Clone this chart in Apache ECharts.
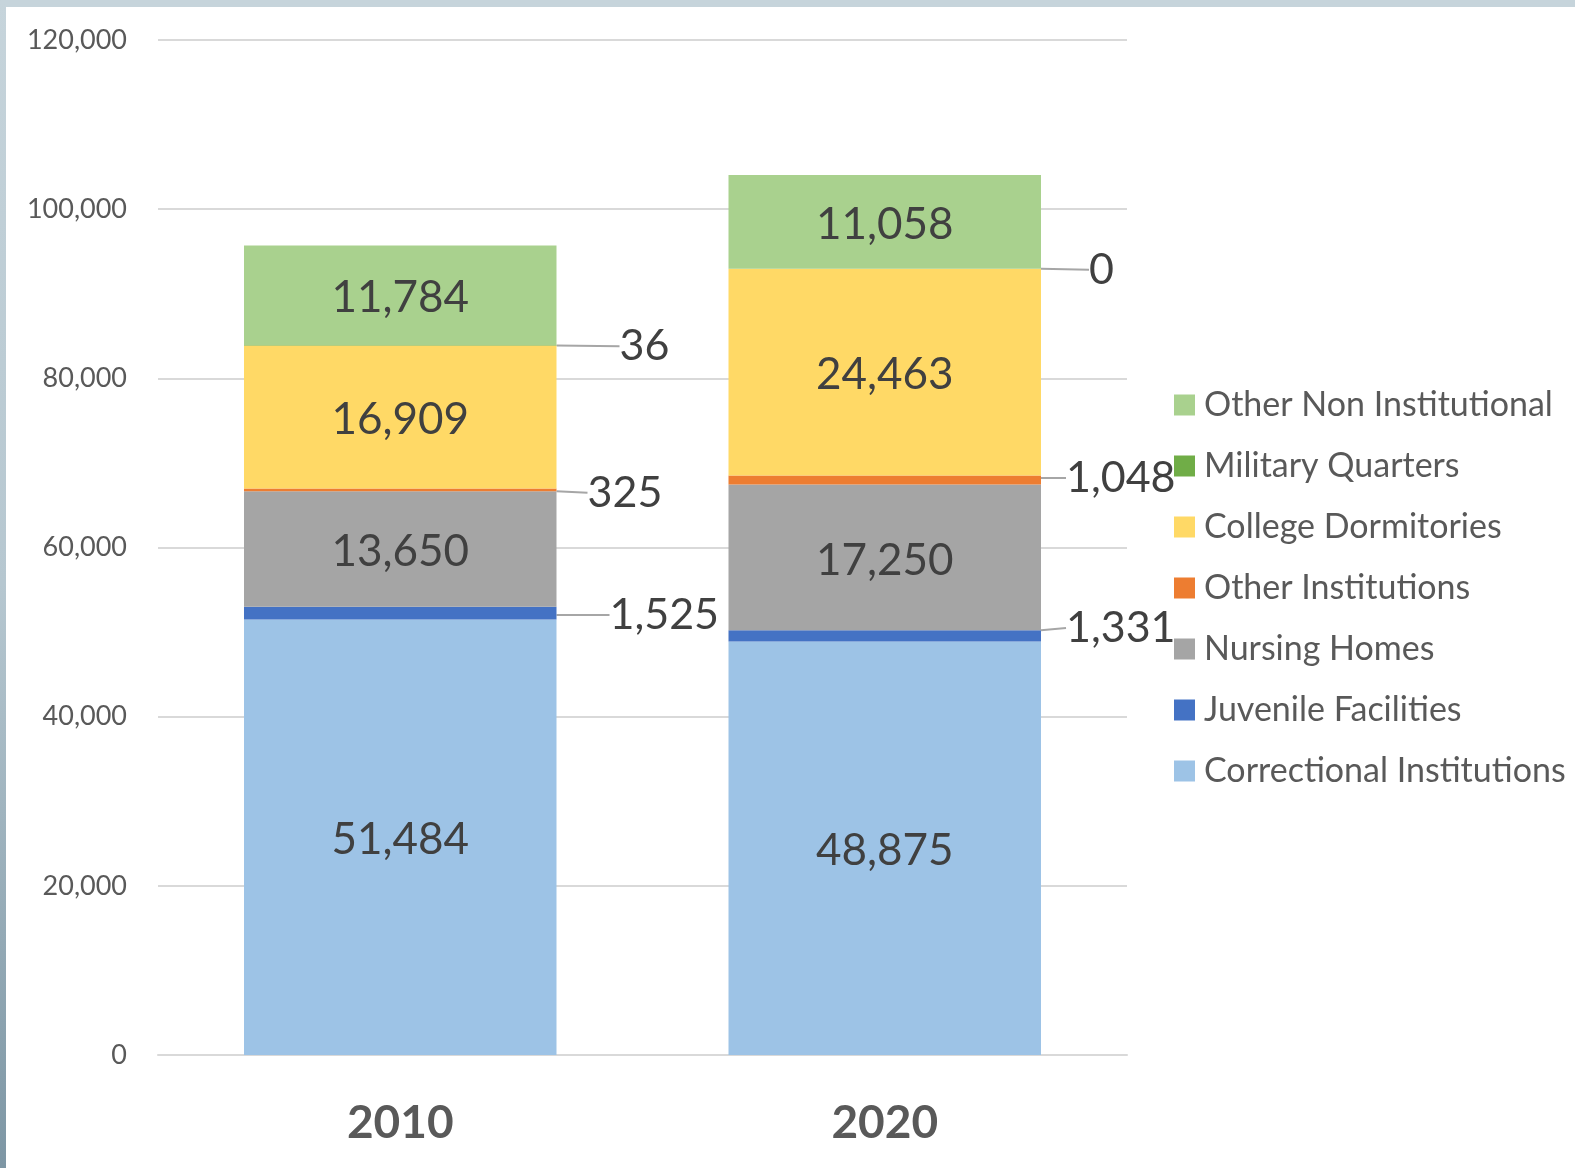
<!DOCTYPE html>
<html>
<head>
<meta charset="utf-8">
<script src="https://cdn.jsdelivr.net/npm/echarts@6/dist/echarts.min.js"></script>
<style>
  html, body { margin: 0; padding: 0; background: #fff; }
  #main { position: absolute; left: 0; top: 0; width: 1575px; height: 1168px; }
  #topStrip { position: absolute; left: 0; top: 0; width: 1575px; height: 7px; background: #c6d4db; }
  #leftStrip { position: absolute; left: 0; top: 0; width: 6px; height: 1168px;
    background: linear-gradient(#c6d4db, #b6c7d0 50%, #7d96a4); }
</style>
</head>
<body>
<div id="main"></div>
<div id="topStrip"></div>
<div id="leftStrip"></div>
<script>
// data
const years = ['2010', '2020'];
const correctional = [51484, 48875];
const juvenile = [1525, 1331];
const nursing = [13650, 17250];
const otherInst = [325, 1048];
const college = [16909, 24463];
const military = [36, 0];
const otherNonInst = [11784, 11058];
const yTicks = [0, 20000, 40000, 60000, 80000, 100000, 120000];

// label offsets for the small segments (dx, dy) per year
const juvOffset = [[48, 2], [20, -8]];
const otherInstOffset = [[26, 3], [20, -2]];
const militaryOffset = [[58, 1], [43, 1]];

const fmt = v => v.toLocaleString('en-US');
const font = 'Lato';

const chart = echarts.init(document.getElementById('main'));

function innerSeries(name, data, color) {
  return {
    name: name,
    type: 'bar',
    stack: 'total',
    data: data,
    barWidth: '64.5%',
    itemStyle: { color: color },
    label: {
      show: true,
      position: 'inside',
      offset: [0, 3],
      formatter: p => fmt(p.value),
      color: '#404040',
      fontFamily: font,
      fontSize: 44
    }
  };
}

function outerSeries(name, data, color, offsets) {
  return {
    name: name,
    type: 'bar',
    stack: 'total',
    data: data,
    barWidth: '64.5%',
    itemStyle: { color: color },
    label: {
      show: true,
      position: 'right',
      distance: 5,
      formatter: p => fmt(p.value),
      color: '#404040',
      fontFamily: font,
      fontSize: 43
    },
    labelLine: {
      show: true,
      lineStyle: { color: '#a6a6a6', width: 2 }
    },
    labelLayout: function (params) {
      const o = offsets[params.dataIndex];
      return { dx: o[0], dy: o[1] };
    }
  };
}

chart.setOption({
  backgroundColor: '#fff',
  animation: false,
  grid: { left: 158, right: 448, top: 40, bottom: 113 },
  legend: {
    orient: 'vertical',
    left: 1169,
    top: 383,
    itemWidth: 21,
    itemHeight: 21,
    itemGap: 27,
    icon: 'rect',
    data: ['Other Non Institutional', 'Military Quarters', 'College Dormitories',
      'Other Institutions', 'Nursing Homes', 'Juvenile Facilities', 'Correctional Institutions'],
    textStyle: { color: '#595959', fontFamily: font, fontSize: 34, lineHeight: 34, padding: [0, 0, 0, 4] }
  },
  xAxis: {
    type: 'category',
    data: years,
    axisLine: { lineStyle: { color: '#d9d9d9', width: 2 } },
    axisTick: { show: false },
    axisLabel: { color: '#595959', fontFamily: font, fontWeight: 'bold', fontSize: 46, margin: 45 }
  },
  yAxis: {
    type: 'value',
    min: yTicks[0],
    max: yTicks[yTicks.length - 1],
    interval: yTicks[1] - yTicks[0],
    axisLine: { show: false },
    axisTick: { show: false },
    axisLabel: { color: '#595959', fontFamily: font, fontSize: 27, margin: 31, formatter: v => fmt(v) },
    splitLine: { lineStyle: { color: '#d9d9d9', width: 2 } }
  },
  series: [
    innerSeries('Correctional Institutions', correctional, '#9dc3e6'),
    outerSeries('Juvenile Facilities', juvenile, '#4472c4', juvOffset),
    innerSeries('Nursing Homes', nursing, '#a5a5a5'),
    outerSeries('Other Institutions', otherInst, '#ed7d31', otherInstOffset),
    innerSeries('College Dormitories', college, '#ffd966'),
    outerSeries('Military Quarters', military, '#70ad47', militaryOffset),
    innerSeries('Other Non Institutional', otherNonInst, '#a9d18e')
  ]
});
</script>
</body>
</html>
